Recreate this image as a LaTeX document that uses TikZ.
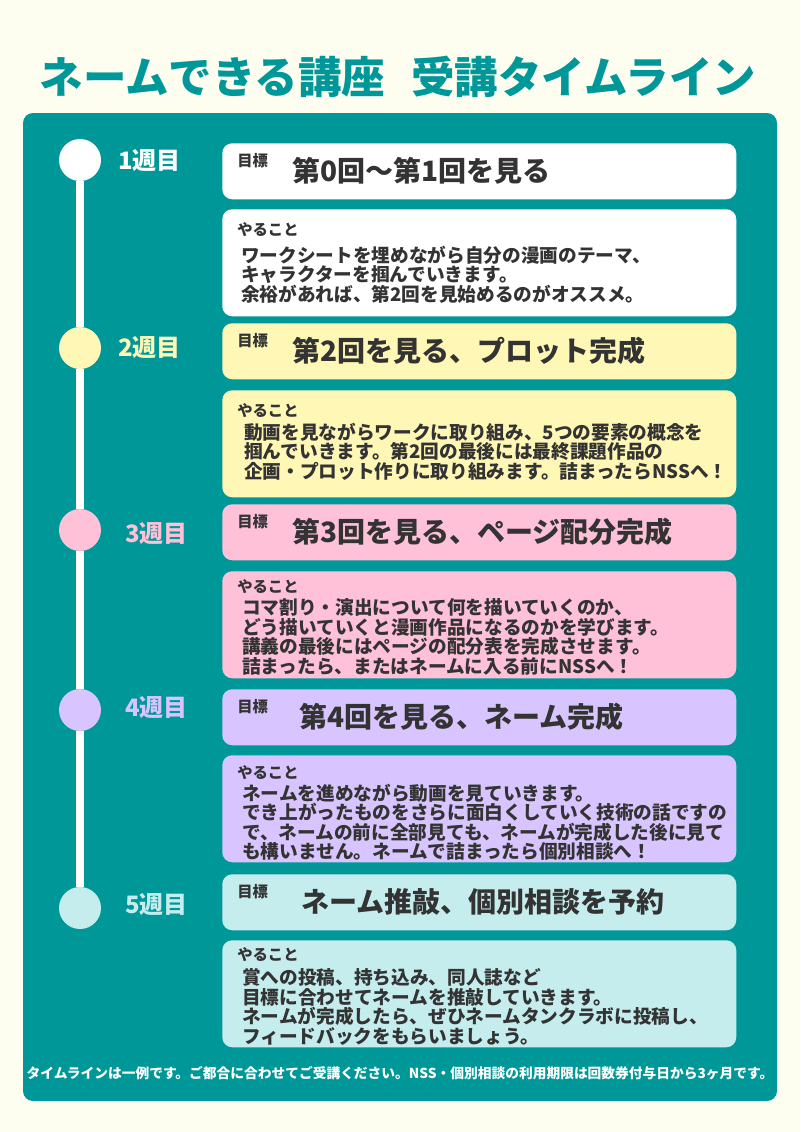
\documentclass[tikz,border=0pt]{standalone}
\usepackage{fontspec}
\setmainfont{Noto Sans CJK JP}
\definecolor{paper}{RGB}{254,254,240}
\definecolor{panelteal}{RGB}{0,151,153}
\definecolor{ink}{RGB}{51,51,51}
\definecolor{wkyellow}{RGB}{255,247,181}
\definecolor{wkpink}{RGB}{255,193,216}
\definecolor{wklilac}{RGB}{216,197,255}
\definecolor{wkcyan}{RGB}{197,237,238}
\begin{document}
\begin{tikzpicture}[x=0.75pt, y=-0.75pt,
		box/.style={rounded corners=7.5pt, anchor=north west, minimum width=385.5pt, inner sep=0pt},
		goalbox/.style={box, minimum height=42pt},
		todobox/.style={box, minimum height=80.25pt},
		weekdot/.style={circle, minimum size=31.5pt, inner sep=0pt},
		weeklabel/.style={anchor=west, inner sep=0pt, font=\fontsize{18}{18}\selectfont\bfseries},
		tag/.style={anchor=west, inner sep=0pt, text=ink, font=\fontsize{11.5}{12}\selectfont\bfseries},
		goaltext/.style={anchor=west, inner sep=0pt, text=ink, font=\fontsize{21}{21}\selectfont\bfseries},
		todotext/.style={anchor=north west, inner sep=0pt, align=left, text=ink, font=\fontsize{14}{14.6}\selectfont\bfseries}]
		\fill[paper] (0,0) rectangle (800,1132);
		\useasboundingbox (0,0) rectangle (800,1132);
		\fill[panelteal, rounded corners=7.5pt] (23,113) rectangle (777,1101);

		\node[text=panelteal, font=\fontsize{32.6}{33}\selectfont\bfseries] (title) at (398,77) {ネームできる講座\hspace{0.6em}受講タイムライン};

		% timeline
		\node[weekdot, fill=white] (w1) at (80,160) {};
		\node[weekdot, fill=wkyellow] (w2) at (80,348) {};
		\node[weekdot, fill=wkpink] (w3) at (80,530) {};
		\node[weekdot, fill=wklilac] (w4) at (80,710) {};
		\node[weekdot, fill=wkcyan] (w5) at (80,908) {};

		\path (w1) edge[white, line width=6pt] (w2);
		\path (w2) edge[white, line width=6pt] (w3);
		\path (w3) edge[white, line width=6pt] (w4);
		\path (w4) edge[white, line width=6pt] (w5);

		\node[weeklabel, text=white] (l1) at (118,161) {1週目};
		\node[weeklabel, text=wkyellow] (l2) at (118,348) {2週目};
		\node[weeklabel, text=wkpink] (l3) at (125,534) {3週目};
		\node[weeklabel, text=wklilac] (l4) at (125,708) {4週目};
		\node[weeklabel, text=wkcyan] (l5) at (125,904) {5週目};

		% week 1
		\node[goalbox, fill=white] (g1) at (222,143) {};
		\node[todobox, fill=white] (t1) at (222,209) {};
		\node[tag] (g1tag) at ([shift={(15,18)}]g1.north west) {目標};
		\node[goaltext] (g1text) at (292,171) {第0回〜第1回を見る};
		\node[tag] (t1tag) at ([shift={(15,21)}]t1.north west) {やること};
		\node[todotext] (t1text) at ([shift={(19,36.5)}]t1.north west) {ワークシートを埋めながら自分の漫画のテーマ、\\キャラクターを掴んでいきます。\\余裕があれば、第2回を見始めるのがオススメ。};

		% week 2
		\node[goalbox, fill=wkyellow] (g2) at (222,323) {};
		\node[todobox, fill=wkyellow] (t2) at (222,390) {};
		\node[tag] (g2tag) at ([shift={(15,18)}]g2.north west) {目標};
		\node[goaltext] (g2text) at (292,351) {第2回を見る、プロット完成};
		\node[tag] (t2tag) at ([shift={(15,21)}]t2.north west) {やること};
		\node[todotext] (t2text) at ([shift={(22,32.5)}]t2.north west) {動画を見ながらワークに取り組み、5つの要素の概念を\\掴んでいきます。第2回の最後には最終課題作品の\\企画・プロット作りに取り組みます。詰まったらNSSへ！};

		% week 3
		\node[goalbox, fill=wkpink] (g3) at (222,504) {};
		\node[todobox, fill=wkpink] (t3) at (222,571) {};
		\node[tag] (g3tag) at ([shift={(15,18)}]g3.north west) {目標};
		\node[goaltext] (g3text) at (292,532) {第3回を見る、ページ配分完成};
		\node[tag] (t3tag) at ([shift={(15,16)}]t3.north west) {やること};
		\node[todotext] (t3text) at ([shift={(20,27.5)}]t3.north west) {コマ割り・演出について何を描いていくのか、\\どう描いていくと漫画作品になるのかを学びます。\\講義の最後にはページの配分表を完成させます。\\詰まったら、またはネームに入る前にNSSへ！};

		% week 4
		\node[goalbox, fill=wklilac] (g4) at (222,689) {};
		\node[todobox, fill=wklilac] (t4) at (222,755) {};
		\node[tag] (g4tag) at ([shift={(15,18)}]g4.north west) {目標};
		\node[goaltext] (g4text) at (299,717) {第4回を見る、ネーム完成};
		\node[tag] (t4tag) at ([shift={(15,18)}]t4.north west) {やること};
		\node[todotext] (t4text) at ([shift={(20,28.5)}]t4.north west) {ネームを進めながら動画を見ていきます。\\でき上がったものをさらに面白くしていく技術の話ですの\\で、ネームの前に全部見ても、ネームが完成した後に見て\\も構いません。ネームで詰まったら個別相談へ！};

		% week 5
		\node[goalbox, fill=wkcyan] (g5) at (222,874) {};
		\node[todobox, fill=wkcyan] (t5) at (222,940) {};
		\node[tag] (g5tag) at ([shift={(15,18)}]g5.north west) {目標};
		\node[goaltext] (g5text) at (301,902) {ネーム推敲、個別相談を予約};
		\node[tag] (t5tag) at ([shift={(15,15)}]t5.north west) {やること};
		\node[todotext] (t5text) at ([shift={(20,28.5)}]t5.north west) {賞への投稿、持ち込み、同人誌など\\目標に合わせてネームを推敲していきます。\\ネームが完成したら、ぜひネームタンクラボに投稿し、\\フィードバックをもらいましょう。};

		\node[text=white, font=\fontsize{10.3}{11}\selectfont\bfseries] (note) at (400,1073) {タイムラインは一例です。ご都合に合わせてご受講ください。NSS・個別相談の利用期限は回数券付与日から3ヶ月です。};
	\end{tikzpicture}
\end{document}
